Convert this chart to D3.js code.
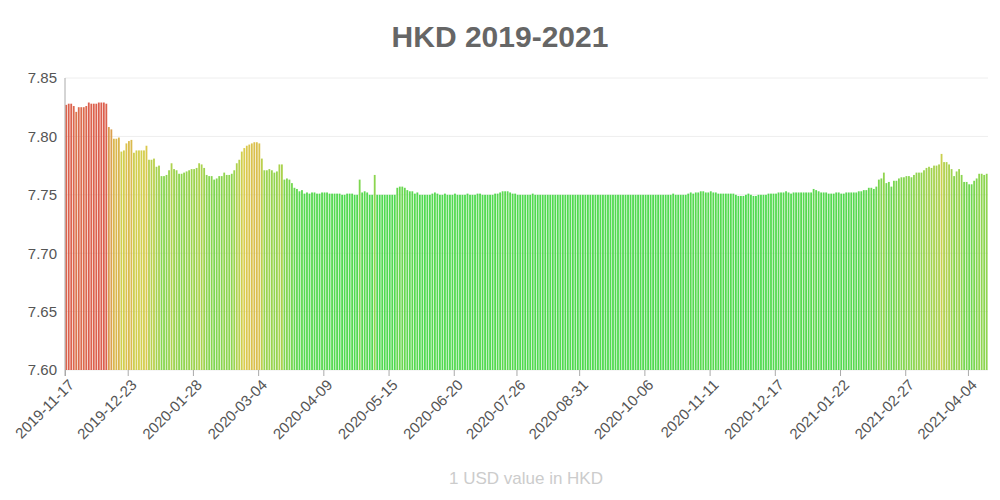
<!DOCTYPE html>
<html><head><meta charset="utf-8">
<script src="https://cdn.jsdelivr.net/npm/d3@7"></script>
<style>body{margin:0;background:#fff}svg{font-family:"Liberation Sans",Arial,sans-serif}</style>
</head><body><svg id="c" width="1000" height="500"></svg>
<script>
const startDate = "2019-11-18";
const tickLabels = ["2019-11-17","2019-12-23","2020-01-28","2020-03-04","2020-04-09","2020-05-15","2020-06-20","2020-07-26","2020-08-31","2020-10-06","2020-11-11","2020-12-17","2021-01-22","2021-02-27","2021-04-04"];
const yTicks = [7.60,7.65,7.70,7.75,7.80,7.85];
const values = [
7.827,7.828,7.828,7.826,7.821,7.825,7.825,7.825,7.826,7.829,7.828,7.828,7.828,7.829,7.829,7.829,7.828,
7.808,7.806,7.798,7.798,7.799,7.787,7.788,7.794,7.796,7.797,
7.786,7.788,7.788,7.788,7.788,7.792,7.780,
7.780,7.781,7.774,7.775,7.766,7.766,7.767,7.771,7.777,7.772,
7.771,7.768,7.768,7.769,7.770,7.771,7.772,7.772,7.773,7.777,
7.776,7.773,7.767,7.766,7.766,7.763,7.764,7.766,
7.766,7.769,7.767,7.767,7.768,7.771,7.777,7.780,7.787,7.790,
7.792,7.793,7.794,7.795,7.795,7.794,7.781,7.771,7.771,7.772,
7.771,7.769,7.770,7.776,7.776,7.763,7.764,7.763,7.760,7.756,
7.755,7.753,7.754,7.751,7.752,7.751,7.752,
7.752,7.751,7.751,7.752,7.752,7.752,7.751,7.751,7.751,7.751,7.751,7.750,7.750,7.751,7.751,7.751,7.750,7.750,
7.763,7.752,7.753,7.752,7.750,7.750,7.767,
7.750,7.750,7.750,7.750,7.750,7.750,7.750,7.750,
7.756,7.757,7.757,7.756,7.754,7.753,7.753,
7.751,7.752,7.750,7.750,7.750,7.750,7.750,7.751,7.752,7.751,
7.750,7.750,7.751,7.750,7.750,7.750,7.751,7.750,7.750,7.750,7.750,7.751,7.750,7.750,7.750,7.751,7.751,7.750,7.750,7.750,7.750,7.750,7.751,
7.751,7.752,7.753,7.753,7.753,7.752,7.751,7.751,
7.750,7.750,7.750,7.750,7.750,7.750,7.751,7.750,7.750,7.750,7.750,7.750,7.750,7.750,7.750,7.750,7.750,7.750,7.750,7.750,
7.750,7.750,7.750,7.750,7.750,7.750,7.750,7.750,7.750,7.750,7.750,7.750,7.750,7.750,7.750,7.750,7.750,7.750,7.750,7.750,
7.750,7.750,7.750,7.750,7.750,7.750,7.750,7.750,7.750,7.750,7.750,7.750,7.750,7.750,7.750,7.750,7.750,7.750,7.750,7.750,
7.750,7.750,7.751,7.750,7.750,7.750,7.750,7.750,7.751,7.752,7.751,7.752,7.752,7.753,7.753,7.752,7.752,7.753,7.752,7.752,
7.751,7.751,7.751,7.751,
7.751,7.751,7.751,7.750,7.749,7.749,7.749,7.750,7.751,7.750,7.749,7.749,7.750,7.750,7.750,7.750,7.751,7.751,7.751,7.751,
7.752,7.752,7.752,7.753,7.752,7.751,7.752,7.752,7.752,7.752,7.752,7.752,7.752,7.752,
7.755,7.754,7.753,7.752,7.752,7.752,7.751,7.751,7.751,7.752,7.752,7.751,7.751,7.752,7.752,7.752,7.752,7.752,7.753,7.753,
7.754,7.754,7.756,7.756,7.755,7.757,
7.763,7.764,7.769,7.760,7.761,7.757,7.762,7.762,7.764,7.765,7.765,7.766,7.766,7.765,7.767,7.769,7.769,7.769,7.771,7.773,
7.774,7.773,7.775,7.775,7.776,7.785,7.778,7.778,7.776,7.772,7.766,7.770,7.772,7.767,7.761,7.761,7.759,7.759,7.762,7.764,
7.768,7.768,7.767,7.768
];

const parse = d3.timeParse("%Y-%m-%d");
const fmt = d3.timeFormat("%Y-%m-%d");
const dates = [];
let d = parse(startDate);
while (dates.length < values.length) {
  if (d.getDay() !== 0 && d.getDay() !== 6) dates.push(new Date(d));
  d = d3.timeDay.offset(d, 1);
}
const data = values.map((v, i) => ({i, date: dates[i], v}));

const svg = d3.select("#c");
const L = 65, R = 988, T = 78, B = 370;
const x = d3.scaleLinear().domain([0, values.length]).range([L, R]);
const y = d3.scaleLinear().domain([7.60, 7.85]).range([B, T]);
const color = d3.scaleLinear().domain([7.75, 7.79, 7.83]).range(["#3ed63e", "#d6c83a", "#d84a3a"]).clamp(true);
// tick index = position of first trading day on/after label date
const tickIdx = tickLabels.map(t => { const td = parse(t); const k = dates.findIndex(dd => dd >= td); return k; });

svg.append("g").selectAll("line").data(yTicks).join("line")
  .attr("x1", L).attr("x2", R).attr("y1", d => y(d)).attr("y2", d => y(d))
  .attr("stroke", "#eeeeee");

const bw = x(1) - x(0);
svg.append("g").selectAll("rect").data(data).join("rect")
  .attr("x", d => x(d.i) + 0.3).attr("width", bw * 0.72)
  .attr("y", d => y(d.v)).attr("height", d => B - y(d.v))
  .attr("fill", d => color(d.v)).attr("opacity", 0.9);

svg.append("line").attr("x1", L).attr("x2", L).attr("y1", T).attr("y2", B + 6).attr("stroke", "#aaa");

const ya = svg.append("g").attr("transform", `translate(${L},0)`)
  .call(d3.axisLeft(y).tickValues(yTicks).tickFormat(d3.format(".2f")).tickSize(0).tickPadding(8));
ya.select(".domain").remove();
ya.selectAll("text").attr("font-size", 15).attr("fill", "#555");

const xa = svg.append("g").attr("transform", `translate(0,${B})`)
  .call(d3.axisBottom(x).tickValues(tickIdx).tickFormat((v, k) => tickLabels[k]).tickSize(6));
xa.select(".domain").remove();
xa.selectAll("line").attr("stroke", "#aaa");
xa.selectAll("text").attr("font-size", 15).attr("fill", "#555")
  .attr("text-anchor", "end").attr("dx", "-0.3em").attr("dy", "0.6em")
  .attr("transform", "rotate(-45)");

svg.append("text").attr("x", 500).attr("y", 47).attr("text-anchor", "middle")
  .attr("font-size", 30).attr("font-weight", "bold").attr("fill", "#666").text("HKD 2019-2021");
svg.append("text").attr("x", 526).attr("y", 484).attr("text-anchor", "middle")
  .attr("font-size", 17).attr("fill", "#ccc").text("1 USD value in HKD");
</script></body></html>
